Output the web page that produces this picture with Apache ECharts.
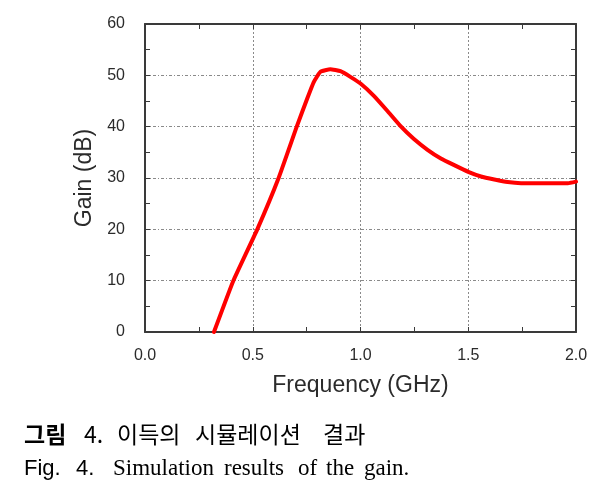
<!DOCTYPE html>
<html>
<head>
<meta charset="utf-8">
<script src="https://cdn.jsdelivr.net/npm/echarts@6/dist/echarts.min.js"></script>
<style>
html,body{margin:0;padding:0;background:#fff;}
#chart{width:605px;height:497px;}
</style>
</head>
<body>
<div id="chart"></div>
<script>
// Data
const freqGHz = [0.32, 0.41, 0.521, 0.62, 0.705, 0.752, 0.783, 0.814, 0.86, 0.907, 0.953, 1.0, 1.062, 1.124, 1.186, 1.248, 1.311, 1.373, 1.435, 1.5, 1.559, 1.621, 1.683, 1.745, 1.87, 1.963, 2.0];
const gainDB  = [0, 10, 20, 30, 40.1, 45.4, 48.7, 50.7, 51.2, 50.8, 49.7, 48.4, 46.0, 43.1, 40.1, 37.6, 35.5, 33.8, 32.5, 31.2, 30.3, 29.7, 29.2, 29.0, 29.0, 29.0, 29.3];
const xTitle = 'Frequency (GHz)';
const yTitle = 'Gain (dB)';
const captionKo = ['그림', '4.', '이득의', '시뮬레이션', '결과'];
const captionEnSans = ['Fig.', '4.'];
const captionEnSerif = ['Simulation', 'results', 'of', 'the', 'gain.'];

const points = freqGHz.map((f, i) => [f, gainDB[i]]);
const textColor = '#2b2b2b';
const axisCol = '#3a3a3a';

const chart = echarts.init(document.getElementById('chart'), null, {renderer: 'canvas'});

const koX = [24, 84, 117, 195, 323];
const enSansX = [24, 76];
const enSerifX = [113, 224, 298, 326, 364];
const graphics = [];
captionKo.forEach((t, i) => graphics.push({
  type: 'text', x: koX[i], y: 434,
  style: {text: t, fill: '#000', font: (i === 0 ? 'bold ' : '') + '23px "Noto Sans CJK KR"', textVerticalAlign: 'middle'}
}));
captionEnSans.forEach((t, i) => graphics.push({
  type: 'text', x: enSansX[i], y: 469,
  style: {text: t, fill: '#000', font: '22px "Liberation Sans"', textVerticalAlign: 'middle'}
}));
captionEnSerif.forEach((t, i) => graphics.push({
  type: 'text', x: enSerifX[i], y: 469,
  style: {text: t, fill: '#000', font: '23px "Liberation Serif"', textVerticalAlign: 'middle'}
}));

const commonX = {
  type: 'value', min: 0, max: 2, interval: 0.5,
  axisLine: {show: true, onZero: false, lineStyle: {color: axisCol, width: 2}},
  axisTick: {show: true, inside: true, length: 5, lineStyle: {color: axisCol, width: 1}},
  minorTick: {show: true, splitNumber: 2, length: 5, lineStyle: {color: axisCol, width: 1}},
};
const commonY = {
  type: 'value', min: 0, max: 60, interval: 10,
  axisLine: {show: true, onZero: false, lineStyle: {color: axisCol, width: 2}},
  axisTick: {show: true, inside: true, length: 5, lineStyle: {color: axisCol, width: 1}},
  minorTick: {show: true, splitNumber: 2, length: 5, lineStyle: {color: axisCol, width: 1}},
};

chart.setOption({
  animation: false,
  backgroundColor: '#fff',
  grid: {left: 145, right: 29, top: 24, bottom: 165, containLabel: false},
  graphic: graphics,
  xAxis: [
    Object.assign({}, commonX, {
      position: 'bottom',
      name: xTitle, nameLocation: 'middle', nameGap: 42,
      nameTextStyle: {color: textColor, fontSize: 23, fontFamily: 'Liberation Sans'},
      axisLabel: {color: textColor, fontSize: 16, margin: 16, fontFamily: 'Liberation Sans',
        formatter: v => v.toFixed(1)},
      splitLine: {show: true, lineStyle: {color: '#8a8a8a', width: 1, type: [2, 2]}}
    }),
    Object.assign({}, commonX, {
      position: 'top', axisLabel: {show: false}, splitLine: {show: false}
    })
  ],
  yAxis: [
    Object.assign({}, commonY, {
      position: 'left',
      name: yTitle, nameLocation: 'middle', nameGap: 45,
      nameTextStyle: {color: textColor, fontSize: 23, fontFamily: 'Liberation Sans'},
      axisLabel: {color: textColor, fontSize: 16, margin: 20, fontFamily: 'Liberation Sans'},
      splitLine: {show: true, lineStyle: {color: '#8a8a8a', width: 1, type: [3, 2, 1, 2]}}
    }),
    Object.assign({}, commonY, {
      position: 'right', axisLabel: {show: false}, splitLine: {show: false}
    })
  ],
  series: [{
    type: 'line',
    data: points,
    xAxisIndex: 0, yAxisIndex: 0,
    showSymbol: false,
    smooth: 0.12,
    lineStyle: {color: '#ff0000', width: 4, join: 'round', cap: 'round'},
    clip: true
  }]
});
</script>
</body>
</html>
